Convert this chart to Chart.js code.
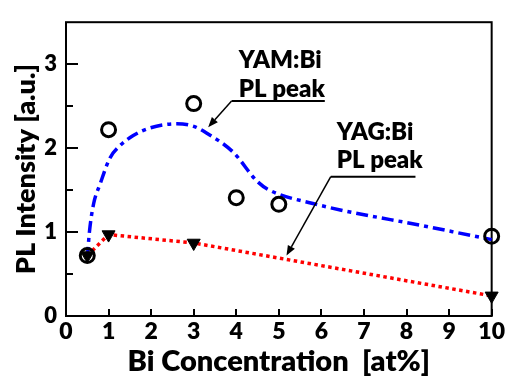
<!DOCTYPE html>
<html><head><meta charset="utf-8">
<script src="https://cdn.jsdelivr.net/npm/chart.js@4.4.0/dist/chart.umd.min.js"></script>
<style>html,body{margin:0;padding:0;background:#fff;}#wrap{width:507px;height:381px;}</style>
</head><body><div id="wrap"><canvas id="c" width="507" height="381"></canvas></div>
<script>
// ---- data ----
const concYAM = [0.5, 1, 3, 4, 5, 10];
const intensityYAM = [0.72, 2.22, 2.53, 1.41, 1.33, 0.95];
const concYAG = [0.5, 1, 3, 10];
const intensityYAG = [0.72, 0.97, 0.87, 0.24];
// guide curve for YAM:Bi
const curveYAMx = [0.5, 0.55, 0.65, 0.8, 1.03, 1.27, 1.58, 1.97, 2.6, 3.0, 3.3, 3.93, 4.48, 4.74, 5.8, 8.54, 10];
const curveYAMy = [0.68, 1.0, 1.34, 1.57, 1.88, 2.03, 2.15, 2.24, 2.29, 2.26, 2.18, 1.95, 1.61, 1.51, 1.34, 1.06, 0.91];
const xTicks = [0, 1, 2, 3, 4, 5, 6, 7, 8, 9, 10];
const yTicks = [0, 1, 2, 3];
const yMinorTicks = [0.5, 1.5, 2.5];
const xTitle = 'Bi Concentration  [at%]';
const yTitle = 'PL Intensity [a.u.]';
const labelYAM = ['YAM:Bi', 'PL peak'];
const labelYAG = ['YAG:Bi', 'PL peak'];

// annotation anchors, in data units
const notes = [
  {lines: labelYAM, x: 4.06, ys: [2.953, 2.607], ulY: 2.56, ulX: [3.89, 6.08], tip: [3.34, 2.25]},
  {lines: labelYAG, x: 6.36, ys: [2.099, 1.761], ulY: 1.66, ulX: [6.22, 8.21], tip: [5.18, 0.72]}
];

const FONT = 'Lato';
const W8 = '800';
const pts = (xs, ys) => xs.map((x, i) => ({x: x, y: ys[i]}));

const framePlugin = {
  id: 'frame',
  beforeDatasetsDraw(chart) {
    const {ctx, chartArea: a, scales: {x, y}} = chart;
    ctx.save();
    ctx.strokeStyle = '#000';
    ctx.lineWidth = 2;
    ctx.strokeRect(a.left, a.top, a.right - a.left, a.bottom - a.top);
    ctx.beginPath();
    xTicks.forEach(v => { const px = Math.round(x.getPixelForValue(v)); ctx.moveTo(px, a.bottom); ctx.lineTo(px, a.bottom - 7); });
    yTicks.forEach(v => { const py = Math.round(y.getPixelForValue(v)); ctx.moveTo(a.left, py); ctx.lineTo(a.left + 12, py); });
    yMinorTicks.forEach(v => { const py = Math.round(y.getPixelForValue(v)); ctx.moveTo(a.left, py); ctx.lineTo(a.left + 7, py); });
    ctx.stroke();
    ctx.restore();
  },
  afterDatasetsDraw(chart) {
    const {ctx, scales: {x, y}} = chart;
    ctx.save();
    ctx.fillStyle = '#000';
    ctx.strokeStyle = '#000';
    ctx.font = W8 + ' 24px ' + FONT;
    ctx.textAlign = 'left';
    ctx.textBaseline = 'alphabetic';
    notes.forEach(n => {
      const px = x.getPixelForValue(n.x);
      n.lines.forEach((t, i) => ctx.fillText(t, px, y.getPixelForValue(n.ys[i])));
      const uy = y.getPixelForValue(n.ulY);
      const ux0 = x.getPixelForValue(n.ulX[0]), ux1 = x.getPixelForValue(n.ulX[1]);
      ctx.lineWidth = 2;
      ctx.beginPath(); ctx.moveTo(ux1, uy); ctx.lineTo(ux0, uy); ctx.stroke();
      const tx = x.getPixelForValue(n.tip[0]), ty = y.getPixelForValue(n.tip[1]);
      const ang = Math.atan2(ty - uy, tx - ux0);
      const L = 10, W = 4;
      const bx = tx - Math.cos(ang) * L, by = ty - Math.sin(ang) * L;
      ctx.lineWidth = 1.5;
      ctx.beginPath(); ctx.moveTo(ux0, uy); ctx.lineTo(bx, by); ctx.stroke();
      ctx.beginPath();
      ctx.moveTo(tx, ty);
      ctx.lineTo(bx - Math.sin(ang) * W, by + Math.cos(ang) * W);
      ctx.lineTo(bx + Math.sin(ang) * W, by - Math.cos(ang) * W);
      ctx.closePath(); ctx.fill();
    });
    ctx.restore();
  }
};

new Chart(document.getElementById('c'), {
  type: 'scatter',
  data: {
    datasets: [
      {
        label: 'YAM:Bi', data: pts(concYAM, intensityYAM), showLine: false,
        pointStyle: 'circle', pointRadius: 7, pointBorderWidth: 3,
        pointBorderColor: '#000', pointBackgroundColor: 'rgba(0,0,0,0)', clip: false
      },
      {
        label: 'YAG:Bi', data: pts(concYAG, intensityYAG), showLine: true,
        borderColor: '#ff0000', borderWidth: 3.5, borderDash: [3.5, 3.5],
        pointStyle: 'triangle', pointRotation: 180, pointRadius: 7.5, pointBorderWidth: 1,
        pointBorderColor: '#000', pointBackgroundColor: '#000', clip: false
      },
      {
        label: 'YAM curve', data: pts(curveYAMx, curveYAMy), showLine: true,
        borderColor: '#0000ff', borderWidth: 3.5, borderDash: [12, 5, 4, 5],
        cubicInterpolationMode: 'monotone', pointRadius: 0, clip: false
      }
    ]
  },
  options: {
    responsive: false, animation: false, devicePixelRatio: 1,
    layout: {padding: {top: 13, right: 15, left: 0, bottom: 0}},
    plugins: {legend: {display: false}, tooltip: {enabled: false}},
    scales: {
      x: {
        type: 'linear', min: 0, max: 10,
        afterBuildTicks: s => { s.ticks = xTicks.map(v => ({value: v})); },
        afterFit: s => { s.height = 65; },
        grid: {display: false, drawTicks: false}, border: {display: false},
        ticks: {color: '#000', padding: 2, maxRotation: 0, autoSkip: false, font: {family: FONT, weight: W8, size: 23}},
        title: {display: true, text: xTitle, color: '#000', padding: {top: 0, bottom: 2}, font: {family: FONT, weight: W8, size: 29, lineHeight: 1.2}}
      },
      y: {
        type: 'linear', min: 0, max: 3.5,
        afterBuildTicks: s => { s.ticks = yTicks.map(v => ({value: v})); },
        afterFit: s => { s.width = 66; },
        grid: {display: false, drawTicks: false}, border: {display: false},
        ticks: {color: '#000', padding: 9, font: {family: FONT, weight: W8, size: 22}},
        title: {display: true, text: yTitle, color: '#000', padding: {top: 13, bottom: 0}, font: {family: FONT, weight: W8, size: 27, lineHeight: 1}}
      }
    }
  },
  plugins: [framePlugin]
});
</script>
</body></html>
